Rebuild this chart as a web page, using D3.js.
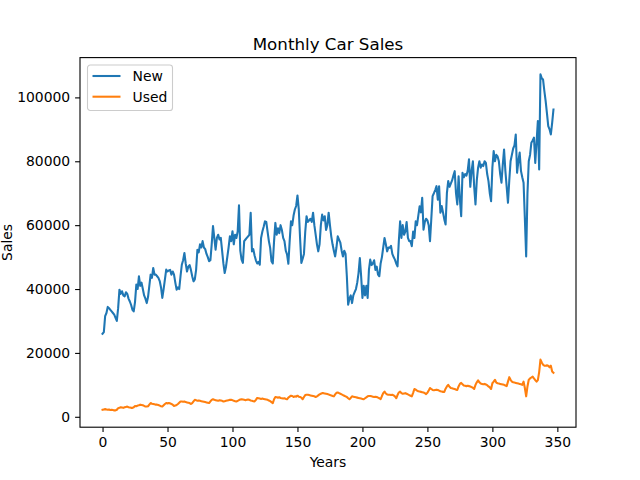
<!DOCTYPE html>
<html>
<head>
<meta charset="utf-8">
<script src="https://cdn.jsdelivr.net/npm/d3@7"></script>
<style>
  body { margin: 0; background: #fff; }
  text { font-family: "DejaVu Sans", sans-serif; fill: #000; }
</style>
</head>
<body>
<div id="container"></div>
<script>
const width = 640;
const height = 480;
const margin = { top: 57.6, bottom: 52.8, left: 80, right: 64 };

// monthly sales (one row per 12 months)
const newSales = [
  26000, 26500, 31500, 32500, 34400, 34000, 33500, 33000, 32500, 32000, 31000, 30000,
  34000, 39800, 38500, 39300, 38000, 37700, 39000, 38500, 37000, 36100, 35000, 33500,
  33000, 36000, 41400, 40000, 44000, 41000, 42000, 40000, 38000, 37000, 35600, 37500,
  41000, 44500, 43500, 46600, 44500, 44500, 44000, 43500, 42500, 40500, 37200, 40000,
  43000, 46100, 45500, 45800, 46000, 44500, 45500, 44500, 42000, 39800, 40500, 40000,
  44000, 47600, 49000, 51300, 48000, 45500, 47000, 47500, 46000, 44000, 42400, 43000,
  46000, 52300, 51500, 54000, 53000, 55000, 53000, 52500, 51000, 50000, 48700, 49000,
  54000, 59700, 56000, 52300, 56000, 57000, 55500, 56000, 52000, 48000, 45000, 47000,
  50000, 53000, 56500, 55000, 58100, 54000, 57000, 56000, 58000, 66200, 52000, 49200,
  48200, 55000, 55500, 56000, 56500, 57000, 63900, 51800, 52500, 50500, 49000, 48000,
  48500, 47600, 56000, 58000, 59500, 61200, 61000, 58000, 55000, 52900, 48700, 48000,
  55000, 60700, 57000, 59000, 57500, 60000, 58500, 56000, 55000, 52000, 50800, 47900,
  55000, 61200, 60000, 63000, 64900, 66000, 69300, 65000, 56000, 48200, 49500, 51000,
  58000, 62800, 61000, 61500, 62000, 61000, 63900, 60000, 57000, 54000, 51800, 54000,
  60000, 63300, 61500, 62800, 58500, 60000, 63900, 60000, 56500, 54000, 52000, 50200,
  53000, 56500, 55500, 54500, 52000, 50200, 52000, 51000, 44000, 35100, 37000, 38000,
  35600, 38000, 39000, 40000, 42000, 45000, 49700, 44000, 37200, 41000, 38000, 41000,
  37200, 46000, 49200, 47500, 48000, 49000, 46000, 47000, 44500, 44000, 48000, 50000,
  53000, 56000, 54000, 51800, 53000, 52900, 53500, 51000, 50000, 49200, 48000, 47100,
  55000, 61200, 56000, 60000, 57000, 58000, 61000, 56000, 55000, 55000, 53400, 58000,
  56000, 61200, 60000, 63000, 65900, 64000, 68600, 58600, 61000, 62000, 61500, 60000,
  55000, 62000, 69100, 70000, 71000, 72200, 68000, 72200, 63900, 66000, 64000, 61800,
  60200, 70000, 73800, 72000, 73000, 74000, 75500, 76900, 70000, 66500, 75300, 68000,
  62800, 76400, 75000, 76000, 75500, 77000, 80600, 72000, 77000, 80000, 72000, 66500,
  74000, 78000, 80000, 78000, 79000, 78500, 80000, 79500, 76000, 73800, 70000, 67500,
  78000, 83200, 80000, 82000, 81500, 80000, 76000, 73300, 79000, 83700, 77000, 72000,
  67000, 74000, 80000, 82000, 84000, 85000, 88400, 76400, 80000, 82700, 77000, 75000,
  73300, 62000, 50200, 70000, 80000, 82000, 85800, 86500, 87400, 79500, 86000, 92600,
  77400, 107200, 106000, 105600, 102000, 98800, 95000, 91000, 90000, 88400, 92000, 96200
];

const usedSales = [
  2200, 2300, 2400, 2300, 2200, 2300, 2100, 2200, 2100, 2000, 2000, 2200,
  2700, 2800, 3000, 2900, 2800, 3000, 3100, 3200, 3000, 2900, 2800, 2800,
  3000, 3400, 3300, 3500, 3600, 3800, 3700, 3600, 3400, 3200, 3200, 3300,
  3800, 4300, 4100, 4000, 3900, 3800, 3800, 3700, 3500, 3300, 3200, 3600,
  4000, 4300, 4200, 4300, 4200, 4000, 3800, 3400, 3500, 3700, 4000, 4400,
  4800, 4800, 4700, 4800, 4600, 4500, 4400, 4300, 4000, 4300, 4800, 5300,
  5200, 5000, 5100, 5000, 4900, 4800, 4700, 4600, 4500, 4400, 4300, 4800,
  5300, 5500, 5300, 5200, 5100, 5000, 5200, 5100, 5000, 4800, 4900, 5000,
  5100, 5200, 5300, 5300, 5200, 5000, 4900, 4800, 5000, 5200, 5400, 5500,
  5400, 5300, 5200, 5300, 5400, 5300, 5100, 5000, 4900, 4800, 5300, 5900,
  5800, 5700, 5600, 5700, 5600, 5500, 5400, 5300, 5100, 4900, 4600, 4300,
  5500, 6200, 6100, 6000, 6100, 5900, 5800, 5700, 5800, 5600, 5500, 6000,
  6300, 6600, 6500, 6200, 6400, 6300, 6600, 6300, 6200, 6000, 5500, 6200,
  6800, 6900, 6900, 6800, 6700, 6600, 6500, 6400, 6200, 6400, 6700, 7000,
  7200, 7400, 7400, 7300, 7200, 7100, 7000, 6800, 6700, 6500, 6400, 7000,
  7500, 7600, 7400, 7200, 7000, 6800, 6600, 6400, 6200, 5800, 5500, 5900,
  6400, 6300, 6200, 6100, 6000, 5900, 5800, 5700, 5600, 5500, 5800, 6100,
  6400, 6500, 6500, 6400, 6300, 6200, 6300, 6200, 6000, 5800, 5500, 6500,
  7400, 7900, 7300, 7000, 6900, 6900, 6800, 6900, 6700, 6400, 5800, 6800,
  7600, 7900, 7400, 7200, 7300, 7400, 7200, 7000, 6800, 6600, 6400, 7500,
  8700, 8500, 8200, 8000, 7900, 7800, 7700, 7600, 7400, 7100, 7500, 8200,
  9000, 8700, 8400, 8300, 8400, 8500, 8400, 8200, 8000, 7900, 7800, 7800,
  8800, 9500, 10000, 9400, 9000, 8900, 8800, 8700, 8500, 8400, 9500, 10300,
  10600, 10200, 9800, 9700, 9600, 9700, 9600, 9500, 9300, 9100, 8700, 10000,
  10800, 11400, 10800, 10400, 10300, 10200, 10300, 10100, 9900, 9500, 9200, 8700,
  10500, 11000, 11600, 10700, 10500, 10400, 10300, 10200, 10100, 10000, 9800, 9600,
  11000, 12400, 11600, 11000, 10800, 10700, 10600, 10500, 10400, 10300, 10200, 10000,
  11000, 9000, 6400, 9500, 11600, 12000, 12300, 12600, 12000, 11500, 11000, 11500,
  14000, 17900, 17000, 16300, 16000, 16000, 16100, 16000, 15500, 16000, 14200, 13800
];

const seriesNames = ["New", "Used"];
const seriesColors = ["#1f77b4", "#ff7f0e"];
const xTicks = [0, 50, 100, 150, 200, 250, 300, 350];
const yTicks = [0, 20000, 40000, 60000, 80000, 100000];

const series = [newSales, usedSales];

const svg = d3.select("#container")
    .append("svg")
    .attr("width", width)
    .attr("height", height)
    .attr("viewBox", [0, 0, width, height]);

// matplotlib style 5% margins around the data
const n = newSales.length;
const xPad = (n - 1) * 0.05;
const yMin = d3.min(series.flat());
const yMax = d3.max(series.flat());
const yPad = (yMax - yMin) * 0.05;

const x = d3.scaleLinear()
    .domain([-xPad, n - 1 + xPad])
    .range([margin.left, width - margin.right]);

const y = d3.scaleLinear()
    .domain([yMin - yPad, yMax + yPad])
    .range([height - margin.bottom, margin.top]);

const line = d3.line()
    .x((d, i) => x(i))
    .y(d => y(d));

svg.append("g")
    .selectAll("path")
    .data(series)
    .join("path")
    .attr("d", line)
    .attr("fill", "none")
    .attr("stroke", (d, i) => seriesColors[i])
    .attr("stroke-width", 2.08)
    .attr("stroke-linejoin", "round")
    .attr("stroke-linecap", "square");

// axes
const xAxis = svg.append("g")
    .attr("transform", `translate(0,${height - margin.bottom})`)
    .call(d3.axisBottom(x).tickValues(xTicks).tickSizeOuter(0).tickSize(4.9).tickPadding(4.9));

const yAxis = svg.append("g")
    .attr("transform", `translate(${margin.left},0)`)
    .call(d3.axisLeft(y).tickValues(yTicks).tickFormat(d => d).tickSizeOuter(0).tickSize(4.9).tickPadding(4.9));

[xAxis, yAxis].forEach(g => {
    g.select(".domain").remove();
    g.selectAll(".tick line").attr("stroke", "#000").attr("stroke-width", 1.1);
    g.selectAll(".tick text")
        .attr("font-family", "DejaVu Sans, sans-serif")
        .attr("font-size", 13.9)
        .attr("fill", "#000");
});

// frame
svg.append("rect")
    .attr("x", margin.left)
    .attr("y", margin.top)
    .attr("width", width - margin.left - margin.right)
    .attr("height", height - margin.top - margin.bottom)
    .attr("fill", "none")
    .attr("stroke", "#000")
    .attr("stroke-width", 1.1);

// labels
svg.append("text")
    .attr("x", (margin.left + width - margin.right) / 2)
    .attr("y", margin.top - 8)
    .attr("text-anchor", "middle")
    .attr("font-size", 16.7)
    .text("Monthly Car Sales");

svg.append("text")
    .attr("x", (margin.left + width - margin.right) / 2)
    .attr("y", 467)
    .attr("text-anchor", "middle")
    .attr("font-size", 13.9)
    .text("Years");

svg.append("text")
    .attr("transform", `translate(12,${(margin.top + height - margin.bottom) / 2}) rotate(-90)`)
    .attr("text-anchor", "middle")
    .attr("font-size", 13.9)
    .text("Sales");

// legend
const legend = svg.append("g").attr("transform", "translate(87.5,65)");

legend.append("rect")
    .attr("width", 85)
    .attr("height", 45.5)
    .attr("rx", 2.8)
    .attr("fill", "#fff")
    .attr("fill-opacity", 0.8)
    .attr("stroke", "#cccccc")
    .attr("stroke-width", 1.1);

const items = legend.selectAll("g.item")
    .data(seriesNames)
    .join("g")
    .attr("class", "item")
    .attr("transform", (d, i) => `translate(0,${11 + i * 20.7})`);

items.append("line")
    .attr("x1", 5)
    .attr("x2", 33)
    .attr("stroke", (d, i) => seriesColors[i])
    .attr("stroke-width", 2.08);

items.append("text")
    .attr("x", 45)
    .attr("dy", "0.35em")
    .attr("font-size", 13.9)
    .text(d => d);
</script>
</body>
</html>
